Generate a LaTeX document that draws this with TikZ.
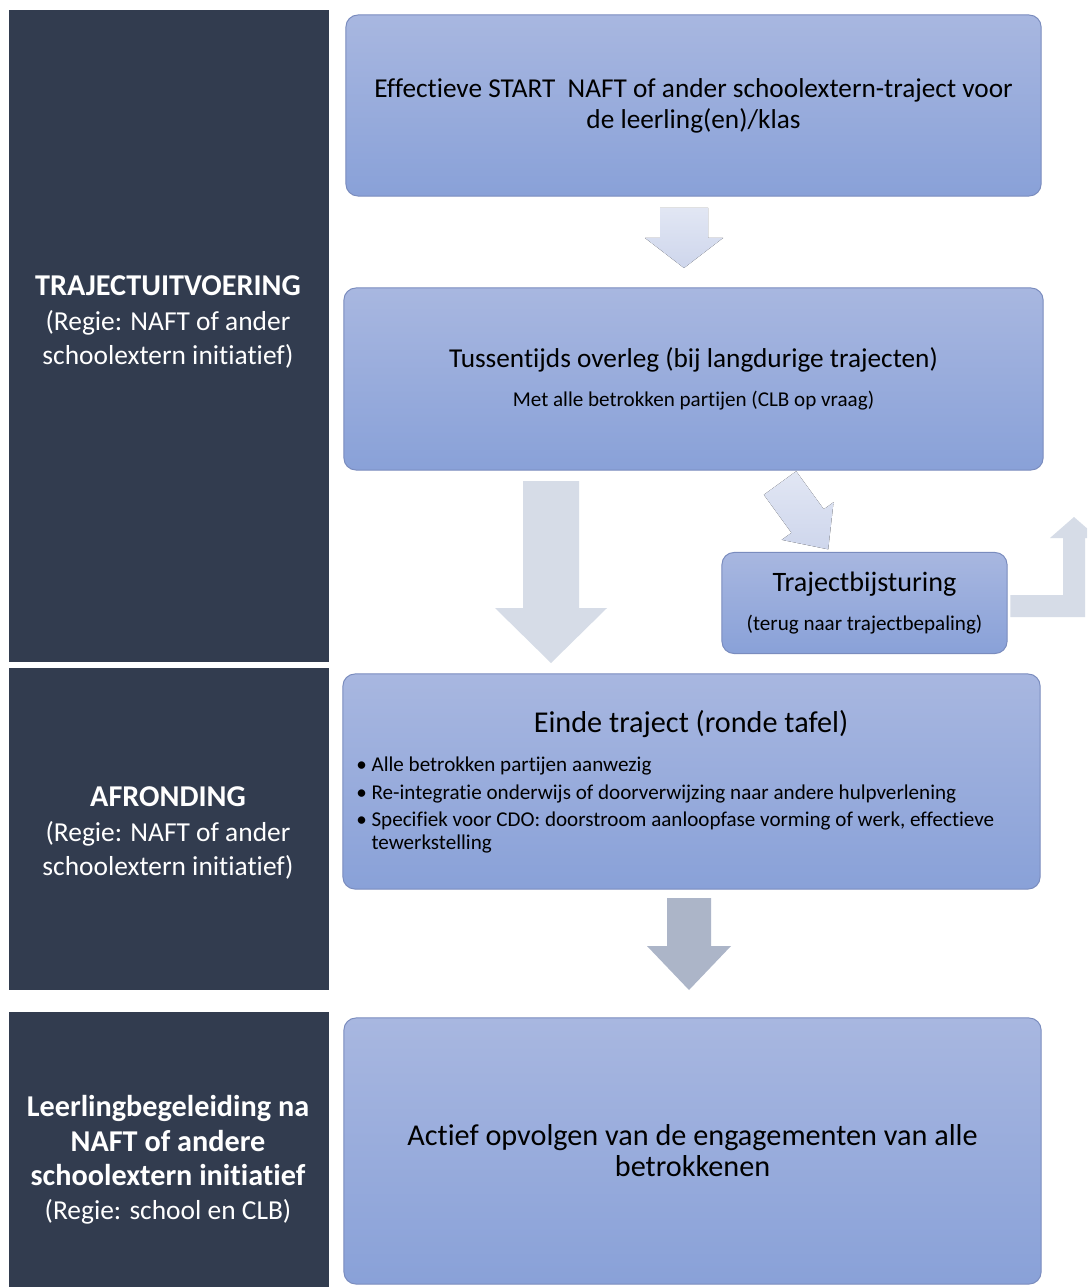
\documentclass[tikz,border=0pt]{standalone}
\usepackage{fontspec}
\setmainfont{Carlito}[Ligatures=NoCommon]
\usetikzlibrary{positioning,calc}

\definecolor{panelblue}{RGB}{50,60,79}
\definecolor{boxtop}{RGB}{168,183,224}
\definecolor{boxbottom}{RGB}{137,161,216}
\definecolor{boxline}{RGB}{122,140,190}
\definecolor{arrowlight}{RGB}{206,214,236}
\definecolor{arrowgrey}{RGB}{214,220,231}
\definecolor{arrowdark}{RGB}{172,181,200}

% block arrow: style, start, angle, length, shaft half, head half, head length
\newcommand{\blockarrow}[7]{%
  \fill[#1, shift={(#2)}, rotate=#3] (0,-#5) -- ({#4-#7},-#5) -- ({#4-#7},-#6) -- (#4,0)
    -- ({#4-#7},#6) -- ({#4-#7},#5) -- (0,#5) -- cycle;}
\newcommand{\panelhead}[1]{{\fontsize{21.5}{24.5}\selectfont\bfseries #1}}

\begin{document}
\begin{tikzpicture}[
    x=0.025cm, y=-0.025cm,
    panel/.style={rectangle, fill=panelblue, minimum width=8cm, inner sep=0pt},
    paneltext/.style={text=white, align=center, font=\fontsize{19.5}{24.5}\selectfont},
    stepbox/.style={rectangle, draw=boxline, line width=0.7pt, top color=boxtop, bottom color=boxbottom, rounded corners=0.3cm, align=center, inner sep=0pt},
    flowlight/.style={top color=arrowlight!60!white, bottom color=arrowlight},
    flowgrey/.style={fill=arrowgrey},
    flowdark/.style={fill=arrowdark}
    ]

    \fill[white] (0,0) rectangle (1087,1287);
    \useasboundingbox (0,0) rectangle (1087,1287);

    % left column
    \node [panel, minimum height=16.3cm] (uitvoering) at (169,336) {};
    \node [panel, minimum height=8.05cm] (afronding) at (169,829) {};
    \node [panel, minimum height=6.875cm] (nazorg) at (169,1149.5) {};

    \node [paneltext] (uitvoeringlabel) at (168,322) {\panelhead{TRAJECTUITVOERING}\\(Regie: NAFT of ander\\schoolextern initiatief)};
    \node [paneltext] (afrondinglabel) at (168,833) {\panelhead{AFRONDING}\\(Regie: NAFT of ander\\schoolextern initiatief)};
    \node [paneltext] (nazorglabel) at (168,1160) {\panelhead{Leerlingbegeleiding na}\\\panelhead{NAFT of andere}\\\panelhead{schoolextern initiatief}\\(Regie: school en CLB)};

    % right column
    \node [stepbox, minimum width=17.375cm, minimum height=4.525cm, font=\fontsize{19.4}{22}\selectfont] (start) at (693.5,105.5)
        {Effectieve START~~NAFT of ander schoolextern-traject voor\\de leerling(en)/klas};
    \node [stepbox, minimum width=17.475cm, minimum height=4.55cm, font=\fontsize{15}{18}\selectfont] (overleg) at (693.5,379)
        {{\fontsize{19.4}{22}\selectfont Tussentijds overleg (bij langdurige trajecten)}\\[10pt]Met alle betrokken partijen (CLB op vraag)};
    \node [stepbox, minimum width=7.125cm, minimum height=2.525cm, font=\fontsize{15}{18}\selectfont] (bijsturing) at (864.5,603)
        {{\fontsize{20}{22}\selectfont Trajectbijsturing}\\[10pt](terug naar trajectbepaling)};
    \node [stepbox, minimum width=17.425cm, minimum height=5.375cm] (einde) at (691.5,781.5) {};
    \node [font=\fontsize{21.5}{24}\selectfont] (eindetitel) at (691,724) {Einde traject (ronde tafel)};
    \node [anchor=north west, align=left, inner sep=0pt, font=\fontsize{15}{16.5}\selectfont] (eindepunten) at (356,757)
        {\textbullet~Alle betrokken partijen aanwezig\\[3pt]
         \textbullet~Re-integratie onderwijs of doorverwijzing naar andere hulpverlening\\[3pt]
         \textbullet~Specifiek voor CDO: doorstroom aanloopfase vorming of werk, effectieve\\
         \phantom{\textbullet~}tewerkstelling};
    \node [stepbox, minimum width=17.425cm, minimum height=6.65cm, font=\fontsize{21.5}{22}\selectfont] (opvolgen) at (692.5,1151)
        {Actief opvolgen van de engagementen van alle\\betrokkenen};

    % connectors
    \coordinate (a1) at (684,208);
    \coordinate (a2) at (551,481);
    \coordinate (a3) at (780,483);
    \coordinate (a4) at (689,898);
    \blockarrow{flowlight}{a1}{-90}{60}{24}{39}{30}
    \blockarrow{flowgrey}{a2}{-90}{182}{28}{56}{55}
    \blockarrow{flowlight}{a3}{-54}{82}{20}{32}{35}
    \blockarrow{flowdark}{a4}{-90}{92}{22}{42}{44}

    \begin{scope}
      \clip (0,0) rectangle (1087,1287);
      \fill[flowgrey] ([xshift=2]bijsturing.east |- 0,595) -- (1063,595) -- (1063,538) -- (1050,538) -- (1074,517)
        -- (1098,538) -- (1085,538) -- (1085,617) -- ([xshift=2]bijsturing.east |- 0,617) -- cycle;
    \end{scope}
\end{tikzpicture}
\end{document}
